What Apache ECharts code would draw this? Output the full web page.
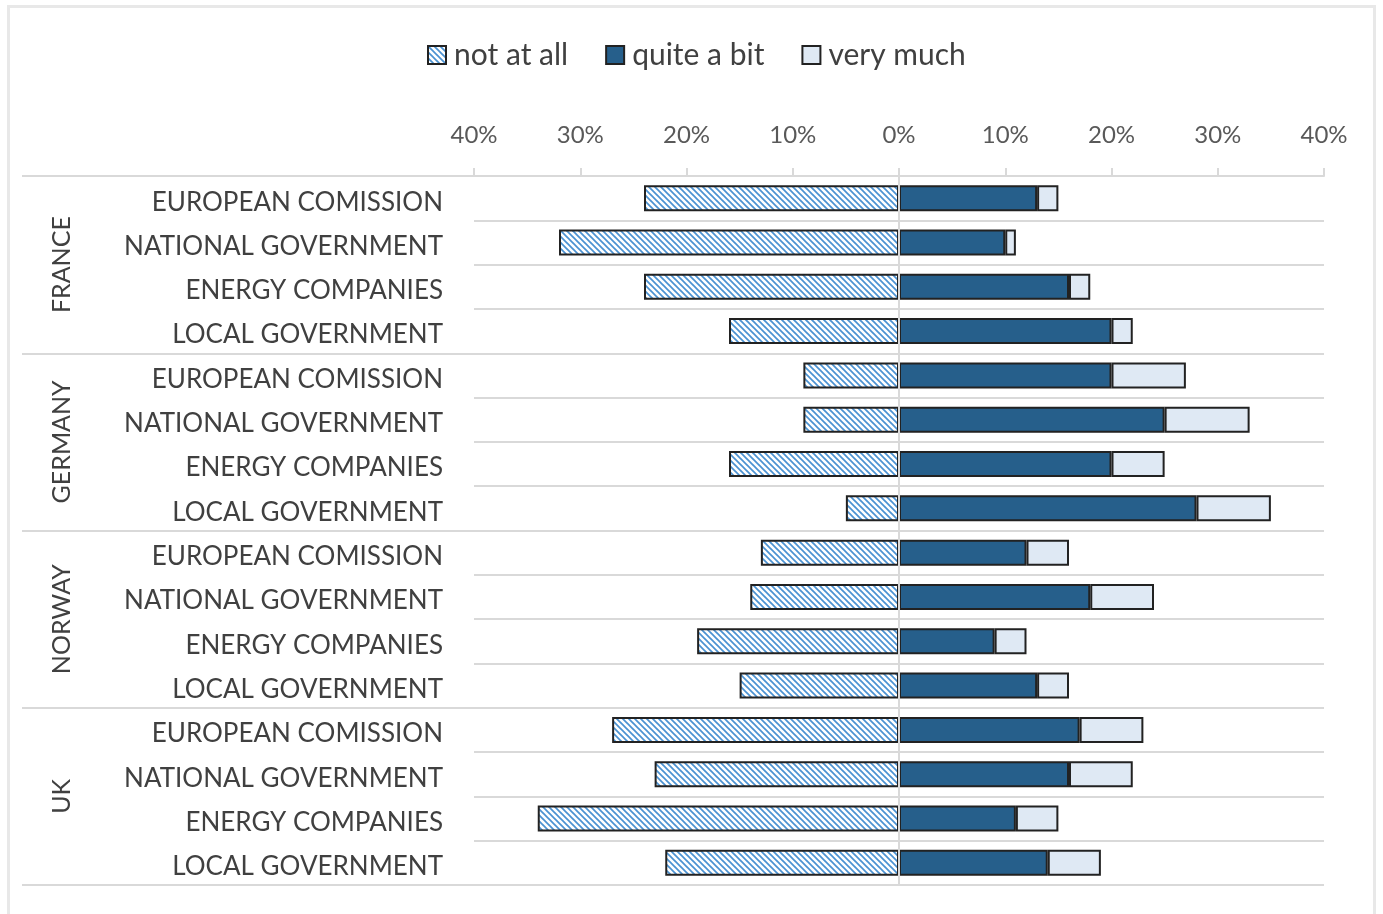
<!DOCTYPE html>
<html>
<head>
<meta charset="utf-8">
<script src="https://cdn.jsdelivr.net/npm/echarts@6/dist/echarts.min.js"></script>
<style>
html,body{margin:0;padding:0;background:#fff;overflow:hidden;}
#frame{position:absolute;left:7px;top:5px;width:1369px;height:930px;border:3px solid #e8e8e8;box-sizing:border-box;}
#chart{position:absolute;left:0;top:0;width:1383px;height:914px;}
</style>
</head>
<body>
<div id="frame"></div>
<div id="chart"></div>
<script>
const countries = ['FRANCE', 'GERMANY', 'NORWAY', 'UK'];
const actors = ['EUROPEAN COMISSION', 'NATIONAL GOVERNMENT', 'ENERGY COMPANIES', 'LOCAL GOVERNMENT'];
const xTicks = [-40, -30, -20, -10, 0, 10, 20, 30, 40];
// values in %, order: country by country, actor by actor
const notAtAll  = [24, 32, 24, 16,   9, 9, 16, 5,   13, 14, 19, 15,   27, 23, 34, 22];
const quiteABit = [13, 10, 16, 20,   20, 25, 20, 28,   12, 18, 9, 13,   17, 16, 11, 14];
const veryMuch  = [2, 1, 2, 2,   7, 8, 5, 7,   4, 6, 3, 3,   6, 6, 4, 5];

const categories = [];
countries.forEach(c => actors.forEach(a => categories.push(c + '|' + a)));

function hatch() {
  const s = 6;
  const cv = document.createElement('canvas');
  cv.width = s; cv.height = s;
  const ctx = cv.getContext('2d');
  ctx.fillStyle = '#ffffff';
  ctx.fillRect(0, 0, s, s);
  ctx.strokeStyle = '#4b92d2';
  ctx.lineWidth = 1.7;
  for (const c of [-s, 0, s]) {
    ctx.beginPath();
    ctx.moveTo(-1, c - 1);
    ctx.lineTo(s + 1, s + c + 1);
    ctx.stroke();
  }
  return cv;
}

const font = 'Lato, "Open Sans", sans-serif';
const textColor = '#404040';
const gridColor = '#d9d9d9';
const border = { borderColor: '#222222', borderWidth: 2 };

const chart = echarts.init(document.getElementById('chart'));
chart.setOption({
  animation: false,
  textStyle: { fontFamily: font },
  legend: {
    top: 35,
    left: 422,
    icon: 'rect',
    itemWidth: 18,
    itemHeight: 18,
    itemGap: 37,
    textStyle: { fontSize: 30, color: textColor, fontFamily: font, padding: [0, 0, 0, 3] },
    data: ['not at all', 'quite a bit', 'very much']
  },
  grid: { left: 474, right: 59, top: 176, bottom: 29, containLabel: false },
  xAxis: {
    type: 'value',
    position: 'top',
    min: xTicks[0],
    max: xTicks[xTicks.length - 1],
    interval: 10,
    axisLine: { show: true, lineStyle: { color: gridColor, width: 2 } },
    axisTick: { show: true, length: 8, lineStyle: { color: gridColor, width: 2 } },
    splitLine: { show: false },
    axisLabel: {
      fontSize: 24, color: '#595959', margin: 29, fontFamily: font,
      formatter: v => Math.abs(v) + '%'
    }
  },
  yAxis: [
    {
      type: 'category',
      data: categories,
      inverse: true,
      position: 'left',
      axisLine: { show: false, onZero: false },
      axisTick: { show: false },
      splitLine: { show: true, interval: 0, lineStyle: { color: gridColor, width: 2 } },
      axisLabel: {
        interval: 0, fontSize: 26, color: textColor, margin: 31, fontFamily: font,
        formatter: v => '{t|' + v.split('|')[1] + '}',
        rich: { t: { fontSize: 26, color: textColor, fontFamily: font, padding: [8, 0, 0, 0] } }
      }
    },
    {
      type: 'category',
      data: countries,
      inverse: true,
      position: 'left',
      axisLine: { show: false, onZero: false },
      axisTick: { show: true, interval: 0, length: 452, lineStyle: { color: gridColor, width: 2 } },
      splitLine: { show: false },
      axisLabel: {
        interval: 0, rotate: 90, fontSize: 25, color: textColor, margin: 412,
        align: 'center', verticalAlign: 'middle', fontFamily: font
      }
    }
  ],
  series: [
    {
      name: 'not at all',
      type: 'bar',
      stack: 'total',
      barWidth: 26,
      data: notAtAll.map(v => -v),
      itemStyle: Object.assign({ color: { image: hatch(), repeat: 'repeat' } }, border)
    },
    {
      name: 'quite a bit',
      type: 'bar',
      stack: 'total',
      barWidth: 26,
      data: quiteABit,
      itemStyle: Object.assign({ color: '#265f8b' }, border),
      markLine: {
        silent: true,
        symbol: 'none',
        label: { show: false },
        lineStyle: { color: gridColor, width: 2, type: 'solid' },
        data: [{ xAxis: 0 }]
      }
    },
    {
      name: 'very much',
      type: 'bar',
      stack: 'total',
      barWidth: 26,
      data: veryMuch,
      itemStyle: Object.assign({ color: '#dfe9f4' }, border)
    }
  ]
});
</script>
</body>
</html>
